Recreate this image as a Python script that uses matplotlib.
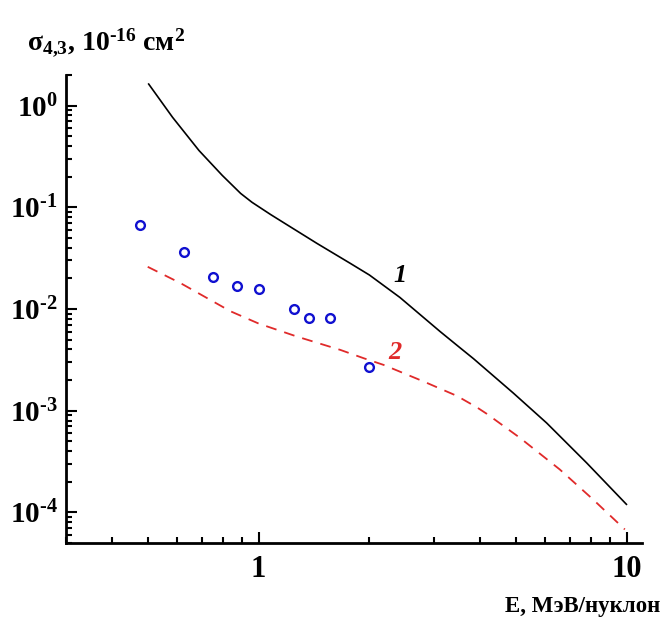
import matplotlib
matplotlib.use("Agg")
import matplotlib.pyplot as plt
from matplotlib.ticker import LogLocator, NullFormatter, FixedLocator, FixedFormatter

plt.rcParams['font.family'] = ['Liberation Serif', 'DejaVu Serif']
plt.rcParams['font.weight'] = 'bold'
plt.rcParams['mathtext.fontset'] = 'custom'
plt.rcParams['mathtext.rm'] = 'Liberation Serif:bold'
plt.rcParams['mathtext.it'] = 'Liberation Serif:italic:bold'
plt.rcParams['mathtext.bf'] = 'Liberation Serif:bold'
plt.rcParams['mathtext.default'] = 'rm'

# curve 1 (solid black)
e_1 = [0.503, 0.584, 0.689, 0.797, 0.894, 0.96, 1.078, 1.171, 1.442, 1.775, 2.0, 2.42,
       3.113, 3.527, 3.834, 4.92, 6.06, 7.78, 9.98]
s_1 = [1.63, 0.768, 0.362, 0.206, 0.137, 0.112, 0.085, 0.0705, 0.0441, 0.0281, 0.0216, 0.0130,
       0.0060, 0.00415, 0.00325, 0.00149, 0.000757, 0.000307, 0.000120]

# curve 2 (red dashed)
e_2 = [0.5, 0.615, 0.839, 1.0, 1.273, 1.668, 1.93, 2.186, 2.805, 3.11,
       3.454, 3.915, 4.17, 5.13, 6.58, 8.10, 9.88]
s_2 = [0.026, 0.0179, 0.0095, 0.0072, 0.00535, 0.00396, 0.00328, 0.00282, 0.00194, 0.00165,
       0.0014, 0.00108, 0.00093, 0.00054, 0.000264, 0.000134, 0.000068]

# experiment (open circles)
e_exp = [0.476, 0.626, 0.750, 0.873, 1.0, 1.246, 1.372, 1.561, 1.99]
s_exp = [0.0667, 0.0365, 0.0207, 0.0167, 0.0157, 0.00993, 0.0081, 0.0081, 0.00266]

y_ticks = [1e-4, 1e-3, 1e-2, 1e-1, 1e0]
y_tick_labels = [r'$10^{\text{-4}}$', r'$10^{\text{-3}}$', r'$10^{\text{-2}}$',
                 r'$10^{\text{-1}}$', r'$10^{0}$']

fig = plt.figure(figsize=(6.67, 6.19), dpi=100)
ax = fig.add_axes([0.099, 0.1228, 0.8635, 0.756])

ax.plot(e_1, s_1, color='black', lw=1.2)
ax.plot(e_2, s_2, color='#e02a2a', lw=1.3, dashes=(6, 4.5))
ax.plot(e_exp, s_exp, 'o', mfc='none', mec='#1010d0', mew=1.7, ms=6.3, ls='none')

ax.set_xscale('log')
ax.set_yscale('log')
ax.set_xlim(0.3, 11)
ax.set_ylim(5e-5, 2)

for side in ['top', 'right']:
    ax.spines[side].set_visible(False)
for side in ['left', 'bottom']:
    ax.spines[side].set_linewidth(2)

ax.xaxis.set_major_locator(FixedLocator([1, 10]))
ax.xaxis.set_major_formatter(FixedFormatter(['1', '10']))
ax.xaxis.set_minor_locator(LogLocator(base=10, subs=range(2, 10)))
ax.xaxis.set_minor_formatter(NullFormatter())
ax.yaxis.set_major_locator(FixedLocator(y_ticks))
ax.yaxis.set_major_formatter(FixedFormatter(y_tick_labels))
ax.yaxis.set_minor_locator(LogLocator(base=10, subs=range(2, 10), numticks=10))
ax.yaxis.set_minor_formatter(NullFormatter())

ax.tick_params(which='both', direction='in', width=1.5)
ax.tick_params(which='major', length=8)
ax.tick_params(which='minor', length=4.5)
ax.tick_params(axis='x', which='major', pad=9, labelsize=22)
ax.tick_params(axis='y', which='major', pad=6, labelsize=21)

ax.text(2.42, 0.0215, '1', fontsize=19, style='italic', fontweight='bold', color='black',
        ha='center', va='center')
ax.text(2.35, 0.0037, '2', fontsize=19, style='italic', fontweight='bold', color='#e02a2a',
        ha='center', va='center')

fig.text(27 / 667, 1 - 50 / 619, r'$\sigma_{4{,}3}$, $10^{\text{-16}}$ см$^2$', fontsize=20,
         fontweight='bold', ha='left', va='baseline')
fig.text(660 / 667, 1 - 612 / 619, 'E, МэВ/нуклон', fontsize=16.5, fontweight='bold',
         ha='right', va='baseline')

fig.savefig('out.png', dpi=100)
